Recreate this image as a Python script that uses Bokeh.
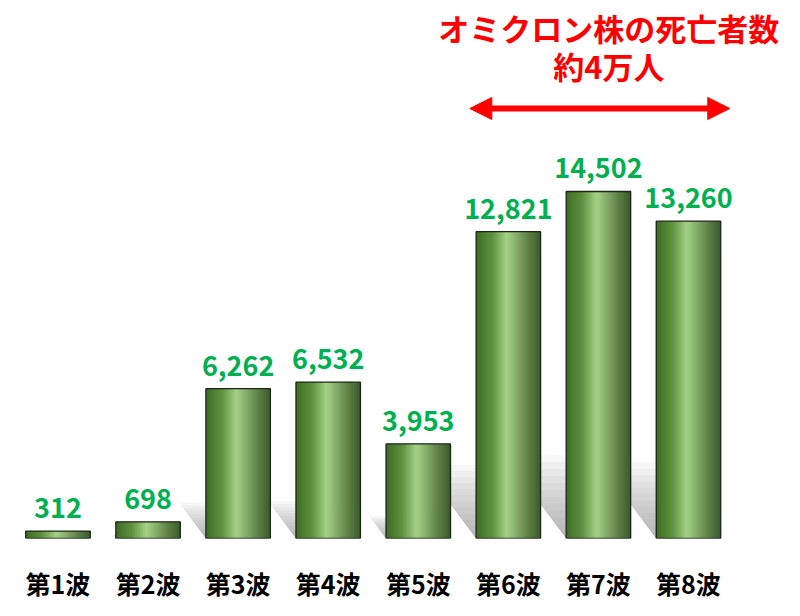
import numpy as np
from bokeh.plotting import figure
from bokeh.models import Range1d, FixedTicker, Arrow, NormalHead
from bokeh.core.properties import value
from bokeh.embed import file_html
from bokeh.resources import INLINE

# ---- data ----
waves = ["第1波", "第2波", "第3波", "第4波", "第5波", "第6波", "第7波", "第8波"]
deaths = [312, 698, 6262, 6532, 3953, 12821, 14502, 13260]
title_lines = ["オミクロン株の死亡者数", "約4万人"]
omicron_first, omicron_last = 5, 7   # indices of the Omicron waves

# ---- layout ----
W, H = 800, 616
BOTTOM = 78
frame_h = H - BOTTOM
px_per_unit = 0.023928          # vertical pixels per death
x_px = 90.07                    # pixels per category
x0 = -57.5 / x_px
x1 = x0 + W / x_px
y_end = frame_h / px_per_unit
hw = 0.358                      # half bar width (category units)
FONT = value("Noto Sans CJK JP")

def up(px):
    """pixels above the baseline -> data units"""
    return px / px_per_unit

p = figure(width=W, height=H, x_range=Range1d(x0, x1), y_range=Range1d(0, y_end),
           output_backend="svg", toolbar_location=None, y_axis_location=None,
           min_border_left=0, min_border_right=0, min_border_top=0,
           min_border_bottom=BOTTOM)
p.grid.visible = False
p.outline_line_color = None
p.background_fill_color = "white"
p.border_fill_color = "white"

xs_idx = list(range(len(deaths)))

# ---- perspective shadows (fading, leaning up-left) ----
sh_xs, sh_ys = [], []
NS = 12
for i, v in enumerate(deaths):
    h_px = v * px_per_unit
    dy = 0.24 * h_px
    dx = 0.75 * dy
    for k in range(1, NS + 1):
        t = k / NS
        xl, xr = i - hw, i + hw
        sx = dx * t / x_px
        top = up(dy * t)
        sh_xs.append([xl, xr, xr - sx, xl - sx])
        sh_ys.append([0, 0, top, top])
p.patches(sh_xs, sh_ys, fill_color="#8c8c8c", fill_alpha=0.065, line_color=None)

# ---- cylindrical bars (gradient strips) ----
stops = [(0.00, "#3e6a27"), (0.10, "#4b7c2f"), (0.25, "#5f913f"), (0.38, "#86b767"),
         (0.47, "#a6d189"), (0.55, "#94c078"), (0.68, "#7a9f60"), (0.82, "#5c7e44"),
         (0.93, "#476837"), (1.00, "#3b592b")]

def hex2rgb(h):
    return np.array([int(h[1:3], 16), int(h[3:5], 16), int(h[5:7], 16)], dtype=float)

sp = np.array([s[0] for s in stops])
sc = np.array([hex2rgb(s[1]) for s in stops])

def color_at(f):
    r = np.interp(f, sp, sc[:, 0]); g = np.interp(f, sp, sc[:, 1]); b = np.interp(f, sp, sc[:, 2])
    return "#%02x%02x%02x" % (int(round(r)), int(round(g)), int(round(b)))

N = 40
L, R, T, C = [], [], [], []
for i, v in enumerate(deaths):
    w = 2 * hw
    for j in range(N):
        l = i - hw + w * j / N
        r = min(i + hw, l + w * 1.7 / N)
        L.append(l); R.append(r); T.append(v)
        C.append(color_at((j + 0.5) / N))
p.quad(left=L, right=R, bottom=0, top=T, fill_color=C, line_color=None)

# outline
p.quad(left=[i - hw for i in xs_idx], right=[i + hw for i in xs_idx], bottom=0, top=deaths,
       fill_alpha=0, line_color="#1c2616", line_width=1.3)

# ---- value labels ----
p.text(x=xs_idx, y=deaths, text=[f"{v:,}" for v in deaths], text_align="center",
       text_baseline="alphabetic", y_offset=-23, text_font=FONT, text_font_style="bold",
       text_font_size="27px", text_color="#00b050")

# ---- arrow and annotation ----
ax_start = omicron_first - hw - 0.07
ax_end = omicron_last + hw + 0.1
arrow_y = up(430)
p.add_layout(Arrow(x_start=ax_start, y_start=arrow_y, x_end=ax_end, y_end=arrow_y,
                   line_color="#ff0000", line_width=6,
                   start=NormalHead(size=22, fill_color="#ff0000", line_color="#ff0000"),
                   end=NormalHead(size=22, fill_color="#ff0000", line_color="#ff0000")))
tx = (ax_start + ax_end) / 2 + 0.1
p.text(x=[tx, tx], y=[up(511), up(473)], text=title_lines, text_align="center",
       text_baseline="middle", text_font=FONT, text_font_style="bold",
       text_font_size="31px", text_color="#ff0000")

# ---- x axis ----
p.xaxis.ticker = FixedTicker(ticks=xs_idx)
p.xaxis.major_label_overrides = {i: w for i, w in enumerate(waves)}
p.xaxis.axis_line_color = None
p.xaxis.major_tick_line_color = None
p.xaxis.minor_tick_line_color = None
p.xaxis.major_label_standoff = 20
p.xaxis.major_label_text_font = "Noto Sans CJK JP"
p.xaxis.major_label_text_font_style = "bold"
p.xaxis.major_label_text_font_size = "25px"
p.xaxis.major_label_text_color = "#000000"

open("out.html", "w").write(file_html(p, INLINE))
